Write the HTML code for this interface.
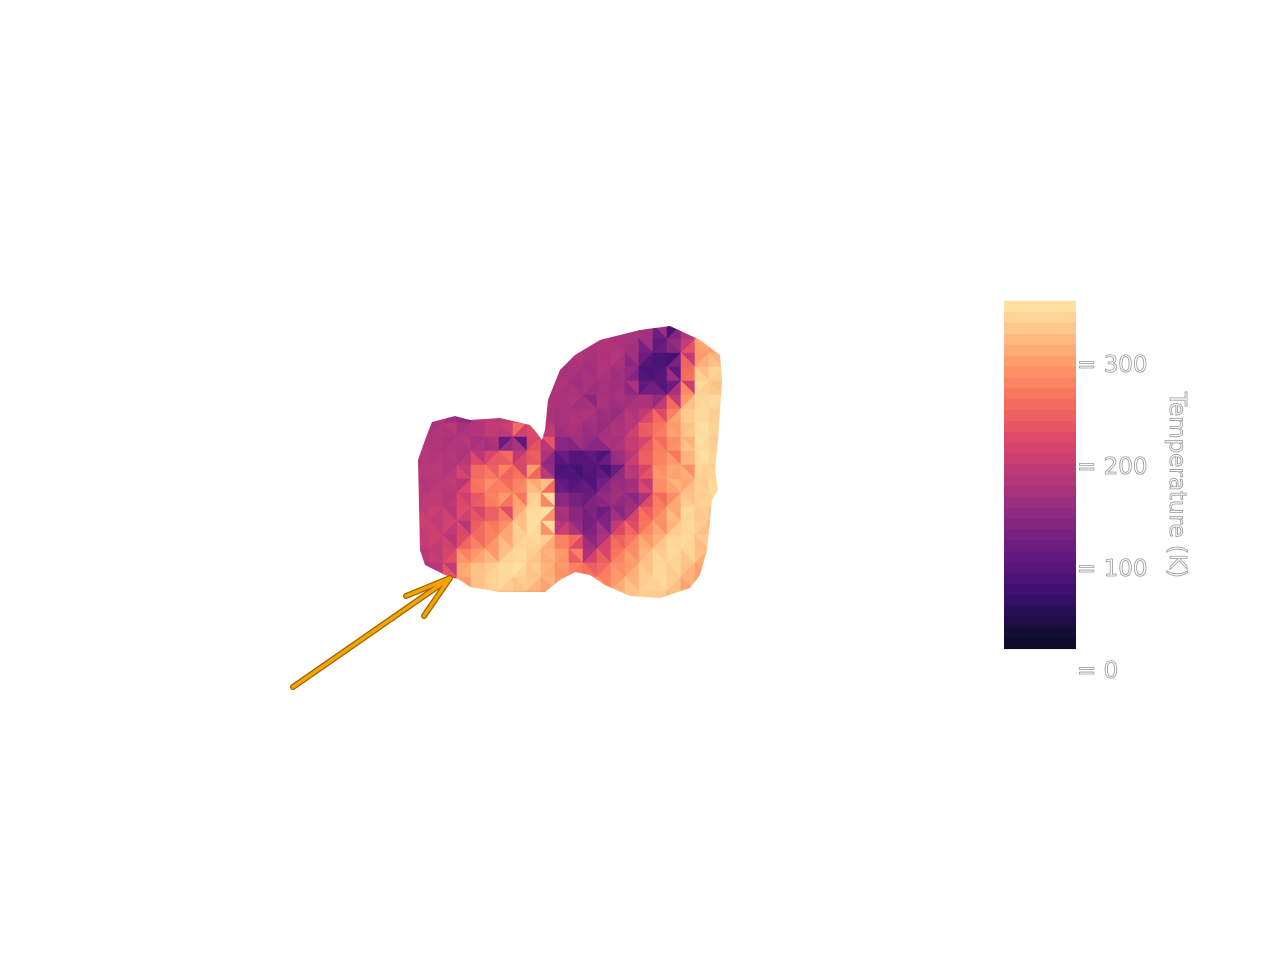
<!DOCTYPE html>
<html><head><meta charset="utf-8"><style>
html,body{margin:0;padding:0;background:#fff;width:1280px;height:960px;overflow:hidden}
svg text{font-family:"DejaVu Sans","Liberation Sans",sans-serif}
</style></head><body>
<svg id="chart" width="1280" height="960" viewBox="0 0 1280 960" xmlns="http://www.w3.org/2000/svg">
<defs>
<clipPath id="cometClip"><polygon points="418,460 425,440 432,422 455,416 470,420 500,418 530,425 536,432 542,440 545,430 548,400 560,370 575,355 600,340 640,330 670,326 700,340 720,355 722,380 718,440 715,470 718,490 712,500 707,550 700,575 690,588 660,598 630,596 605,585 590,575 575,572 560,580 545,592 500,592 470,587 460,580 445,575 425,565 420,550"/></clipPath>
</defs>
<g id="mesh" clip-path="url(#cometClip)"></g>
<g id="arrow">
<path d="M293,687 L450,578 M450,578 L406,596 M450,578 L424,616" fill="none" stroke="#9a6500" stroke-width="6" stroke-linecap="round"/>
<path d="M293,687 L450,578 M450,578 L406,596 M450,578 L424,616" fill="none" stroke="#f5a300" stroke-width="3.5" stroke-linecap="round"/>
</g>
<g id="colorbar"></g>
<text transform="translate(1170,485) rotate(90)" text-anchor="middle" font-size="23" fill="#fff" stroke="#999" stroke-width="0.8">Temperature (K)</text>
</svg>
<script>
const colStart = 415, cellW = 14, rowStart = 325, cellH = 14;
const cmapStops = ["#000004","#140e36","#3b0f70","#641a80","#8c2981","#b73779","#de4968","#f7705c","#fe9f6d","#fecf92","#fcfdbf"];
const vMin = 0, vMax = 380;
const barMin = 21, barMax = 362;
const tickValues = [0,100,200,300];
const tickLabels = ["0","100","200","300"];
const tempGrid = [
[190,190,190,190,190,190,190,190,190,190,190,190,185,180,180,180,175,170,90,180,180,190],
[190,190,190,190,190,190,190,190,190,190,190,185,180,185,180,175,170,110,160,200,310,300],
[190,190,190,190,190,190,190,190,190,190,180,185,175,180,190,170,120,90,85,200,300,320],
[190,190,190,190,190,190,190,190,190,180,175,180,170,185,175,160,90,95,110,260,330,345],
[190,190,190,190,190,190,190,190,190,180,185,170,180,175,170,180,110,100,120,210,350,330],
[190,190,190,190,190,190,190,190,190,175,180,185,150,180,175,170,180,160,200,300,345,350],
[190,185,190,120,185,190,200,195,190,180,175,180,185,170,160,185,200,230,280,340,350,340],
[190,180,195,175,185,200,210,260,270,190,175,180,170,160,180,190,250,270,300,330,355,345],
[195,185,180,190,175,185,120,110,220,240,150,170,160,180,175,200,220,260,290,320,355,340],
[190,185,190,180,195,220,260,200,250,180,120,100,110,95,170,190,250,280,270,320,355,345],
[190,195,185,200,260,250,280,220,300,160,90,85,100,90,120,190,220,290,310,290,345,340],
[185,190,200,190,270,290,260,280,310,330,110,100,95,130,160,170,200,290,320,310,340,350],
[195,200,190,210,240,280,300,270,340,350,150,130,120,160,170,150,180,260,290,330,340,350],
[200,210,190,230,220,250,230,310,350,355,180,150,140,120,150,170,250,280,310,350,340,330],
[210,200,215,190,250,270,290,330,355,350,190,160,130,140,200,230,270,290,320,350,340,310],
[200,210,190,230,260,280,310,340,350,340,280,260,150,180,250,270,300,320,345,350,340,310],
[190,200,220,280,300,300,330,350,340,320,300,280,180,220,270,290,320,340,350,345,330,310],
[190,190,200,310,330,340,350,355,340,320,300,280,250,260,290,300,330,350,345,330,310,300],
[200,200,200,300,330,345,350,340,335,320,300,290,290,280,300,320,340,350,340,320,300,300],
[300,300,300,300,320,330,330,320,310,300,300,300,300,300,320,330,340,340,330,300,300,300]
];
function hex2rgb(h){return [parseInt(h.substr(1,2),16),parseInt(h.substr(3,2),16),parseInt(h.substr(5,2),16)];}
function colorFor(v){
  let t=Math.max(0,Math.min(1,(v-vMin)/(vMax-vMin)))*(cmapStops.length-1);
  let i=Math.min(cmapStops.length-2,Math.floor(t)), f=t-i;
  let a=hex2rgb(cmapStops[i]), b=hex2rgb(cmapStops[i+1]);
  return "rgb("+a.map((x,k)=>Math.round(x+(b[k]-x)*f)).join(",")+")";
}
function xCol(c){return colStart+c*cellW;}
function yRow(r){return rowStart+r*cellH;}
const NS="http://www.w3.org/2000/svg";
const mesh=document.getElementById("mesh");
for(let r=0;r<tempGrid.length;r++){
  for(let c=0;c<tempGrid[r].length;c++){
    const v=tempGrid[r][c];
    const vn=c+1<tempGrid[r].length?tempGrid[r][c+1]:v;
    const vd=r+1<tempGrid.length?tempGrid[r+1][c]:v;
    const x0=xCol(c),x1=xCol(c+1),y0=yRow(r),y1=yRow(r+1);
    const diag=(r+c)%2===0;
    const t1=diag?[[x0,y0],[x1,y0],[x0,y1]]:[[x0,y0],[x1,y0],[x1,y1]];
    const t2=diag?[[x1,y0],[x1,y1],[x0,y1]]:[[x0,y0],[x1,y1],[x0,y1]];
    [[t1,v],[t2,(v+vn+vd)/3]].forEach(([pts,val])=>{
      const p=document.createElementNS(NS,"polygon");
      p.setAttribute("points",pts.map(q=>q.join(",")).join(" "));
      p.setAttribute("fill",colorFor(val));
      p.setAttribute("stroke",colorFor(val));
      p.setAttribute("stroke-width","0.6");
      
      
      mesh.appendChild(p);
    });
  }
}
const cb=document.getElementById("colorbar");
const barX=1004, barW=72, y0v=670, pxPer=1.02;
function yVal(v){return y0v-v*pxPer;}
const nBands=32;
for(let i=0;i<nBands;i++){
  const a=barMin+(barMax-barMin)*i/nBands, b=barMin+(barMax-barMin)*(i+1)/nBands;
  const rc=document.createElementNS(NS,"rect");
  rc.setAttribute("x",barX);rc.setAttribute("width",barW);
  rc.setAttribute("y",yVal(b));rc.setAttribute("height",yVal(a)-yVal(b)+0.5);
  rc.setAttribute("fill",colorFor((a+b)/2));
  
  
  cb.appendChild(rc);
}
tickValues.forEach((v,i)=>{
  const t=document.createElementNS(NS,"text");
  t.setAttribute("x",1077);t.setAttribute("y",yVal(v)+8);
  t.setAttribute("font-size","23");t.setAttribute("fill","#fff");
  t.setAttribute("stroke","#999");t.setAttribute("stroke-width","0.8");
  t.setAttribute("xml:space","preserve");
  t.textContent="= "+tickLabels[i];
  
  
  cb.appendChild(t);
});
</script>
</body></html>
